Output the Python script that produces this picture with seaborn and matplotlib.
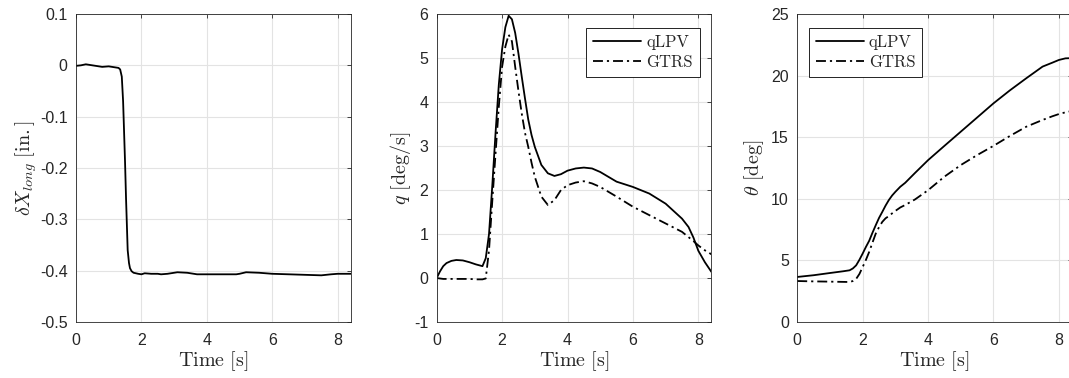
import numpy as np
import pandas as pd
import matplotlib
matplotlib.use("Agg")
import matplotlib.pyplot as plt
import seaborn as sns

# ---- data ----
t_dx = [0.0, 0.15, 0.3, 0.5, 0.7, 0.8, 1.0, 1.2, 1.3, 1.35, 1.40, 1.44, 1.47, 1.50, 1.53, 1.56, 1.58, 1.62, 1.65, 1.70, 1.76,
        1.9, 2.0, 2.1, 2.3, 2.5, 2.6, 2.8, 3.1, 3.4, 3.7, 4.0, 4.5, 4.9, 5.0, 5.2, 5.6, 6.0, 6.5, 7.0, 7.5, 7.8, 8.0, 8.4]
dx = [-0.001, 0.000, 0.002, 0.000, -0.002, -0.003, -0.002, -0.004, -0.005, -0.008, -0.022, -0.07, -0.13, -0.19, -0.26, -0.32,
      -0.36, -0.385, -0.395, -0.401, -0.404, -0.406, -0.407, -0.405, -0.406, -0.406, -0.407, -0.406, -0.403, -0.404, -0.407,
      -0.407, -0.407, -0.407, -0.406, -0.403, -0.404, -0.406, -0.407, -0.408, -0.409, -0.407, -0.406, -0.406]

t_q = [0.0, 0.1, 0.2, 0.3, 0.45, 0.6, 0.8, 1.0, 1.2, 1.4, 1.5, 1.6, 1.7, 1.8, 1.9, 2.0, 2.1, 2.2, 2.3, 2.4, 2.5, 2.6, 2.7, 2.8,
       2.9, 3.0, 3.2, 3.4, 3.6, 3.8, 4.0, 4.25, 4.5, 4.75, 5.0, 5.25, 5.5, 6.0, 6.5, 7.0, 7.5, 7.7, 7.85, 8.0, 8.2, 8.4]
q_qlpv = [0.0, 0.15, 0.27, 0.34, 0.39, 0.41, 0.40, 0.36, 0.31, 0.27, 0.45, 1.0, 2.1, 3.3, 4.4, 5.2, 5.7, 5.96, 5.88, 5.57,
          5.1, 4.58, 4.08, 3.6, 3.25, 2.98, 2.57, 2.38, 2.32, 2.36, 2.44, 2.49, 2.51, 2.49, 2.41, 2.30, 2.19, 2.07, 1.92, 1.69,
          1.35, 1.16, 0.92, 0.62, 0.36, 0.14]
q_gtrs = [0.0, -0.01, -0.02, -0.02, -0.02, -0.02, -0.02, -0.02, -0.03, -0.03, -0.01, 0.63, 1.75, 2.83, 3.9, 4.8, 5.26, 5.53,
          5.38, 4.8, 4.25, 3.74, 3.3, 2.98, 2.62, 2.3, 1.85, 1.66, 1.77, 2.0, 2.11, 2.17, 2.2, 2.15, 2.07, 1.96, 1.85, 1.62,
          1.43, 1.24, 1.05, 0.93, 0.84, 0.74, 0.63, 0.54]

t_th = [0.0, 0.5, 1.0, 1.4, 1.6, 1.7, 1.8, 1.9, 2.0, 2.1, 2.2, 2.3, 2.4, 2.5, 2.6, 2.7, 2.8, 2.9, 3.0, 3.15, 3.3, 3.6, 4.0,
        4.5, 5.0, 5.5, 6.0, 6.5, 7.0, 7.5, 7.8, 8.0, 8.2, 8.4]
th_qlpv = [3.66, 3.8, 3.98, 4.12, 4.2, 4.35, 4.6, 5.05, 5.56, 6.1, 6.6, 7.25, 7.86, 8.45, 8.94, 9.45, 9.9, 10.27, 10.57,
           10.98, 11.3, 12.1, 13.14, 14.3, 15.45, 16.6, 17.75, 18.8, 19.78, 20.73, 21.05, 21.27, 21.4, 21.42]
th_gtrs = [3.33, 3.3, 3.28, 3.26, 3.25, 3.33, 3.5, 3.9, 4.47, 5.05, 5.7, 6.45, 7.18, 7.7, 8.13, 8.42, 8.6, 8.82, 9.02, 9.3,
           9.5, 9.95, 10.7, 11.8, 12.74, 13.55, 14.3, 15.1, 15.85, 16.4, 16.7, 16.88, 17.02, 17.13]

sns.set_style("whitegrid")
plt.rcParams["font.family"] = ["Liberation Sans", "DejaVu Sans"]
plt.rcParams["mathtext.fontset"] = "cm"

fig = plt.figure(figsize=(10.69, 3.78), dpi=100)
bottom, height, width = 0.148, 0.815, 0.257
ax1 = fig.add_axes([0.0711, bottom, width, height])
ax2 = fig.add_axes([0.4085, bottom, width, height])
ax3 = fig.add_axes([0.7458, bottom, width, height])

lw = 1.3
dd = (5.5, 2.2, 1.2, 2.2)

sns.lineplot(x=t_dx, y=dx, ax=ax1, color="black", lw=lw, sort=False)
sns.lineplot(x=t_q, y=q_qlpv, ax=ax2, color="black", lw=lw, sort=False, label="qLPV")
sns.lineplot(x=t_q, y=q_gtrs, ax=ax2, color="black", lw=lw, sort=False, label="GTRS")
ax2.lines[-1].set_dashes(dd)
sns.lineplot(x=t_th, y=th_qlpv, ax=ax3, color="black", lw=lw, sort=False, label="qLPV")
sns.lineplot(x=t_th, y=th_gtrs, ax=ax3, color="black", lw=lw, sort=False, label="GTRS")
ax3.lines[-1].set_dashes(dd)

xt = [0, 2, 4, 6, 8]
for ax in (ax1, ax2, ax3):
    ax.set_xlim(0, 8.4)
    ax.set_xticks(xt)
    ax.set_xticklabels([str(v) for v in xt])
    ax.tick_params(direction="in", length=3, width=0.6, top=True, right=True, labelsize=11.5,
                   colors="#262626", labelcolor="#262626")
    ax.tick_params(axis="x", pad=8)
    ax.tick_params(axis="y", pad=6)
    ax.grid(True, color="#e3e3e3", lw=0.8)
    for s in ax.spines.values():
        s.set_color("#262626")
        s.set_linewidth(0.6)
        s.set_visible(True)
    ax.set_xlabel(r"$\mathrm{Time\ [s]}$", fontsize=14.5, labelpad=0.5, color="#262626")
    ax.set_facecolor("white")

ax1.set_ylim(-0.5, 0.1)
ax1.set_yticks([-0.5, -0.4, -0.3, -0.2, -0.1, 0, 0.1])
ax1.set_yticklabels(["-0.5", "-0.4", "-0.3", "-0.2", "-0.1", "0", "0.1"])
ax1.set_ylabel(r"$\delta X_{long}\ \mathrm{[in.]}$", fontsize=14.5, labelpad=0.5, color="#262626")

ax2.set_ylim(-1, 6)
y2 = [-1, 0, 1, 2, 3, 4, 5, 6]
ax2.set_yticks(y2)
ax2.set_yticklabels([str(v) for v in y2])
ax2.set_ylabel(r"$q\ \mathrm{[deg/s]}$", fontsize=14.5, labelpad=1, color="#262626")

ax3.set_ylim(0, 25)
y3 = [0, 5, 10, 15, 20, 25]
ax3.set_yticks(y3)
ax3.set_yticklabels([str(v) for v in y3])
ax3.set_ylabel(r"$\theta\ \mathrm{[deg]}$", fontsize=14.5, labelpad=4, color="#262626")

legkw = dict(frameon=True, fancybox=False, edgecolor="black", framealpha=1, handlelength=2.9,
             handletextpad=0.3, borderpad=0.4, labelspacing=0.3, borderaxespad=0.0,
             prop={"family": "serif", "size": 12})
leg2 = ax2.legend(loc="upper right", bbox_to_anchor=(0.957, 0.955), **legkw)
leg3 = ax3.legend(loc="upper left", bbox_to_anchor=(0.0425, 0.955), **legkw)
for lg in (leg2, leg3):
    lg.get_frame().set_linewidth(0.6)
    lg.get_lines()[1].set_dashes(dd)
    for tx in lg.get_texts():
        tx.set_fontfamily("cmr10")

fig.savefig("out.png", dpi=100, facecolor="white")
